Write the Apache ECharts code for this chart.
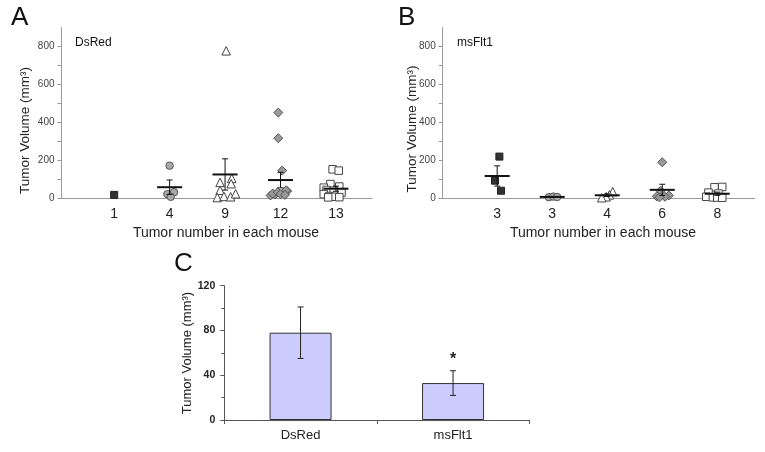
<!DOCTYPE html>
<html><head><meta charset="utf-8">
<script src="https://cdn.jsdelivr.net/npm/echarts@6/dist/echarts.min.js"></script>
<style>html,body{margin:0;padding:0;background:#fff}#c{width:765px;height:452px}</style>
</head><body><div id="c"></div>
<script>
// ---------- Panel A : DsRed (tumor volumes per mouse, grouped by tumor number) ----------
const catsA = ['1', '4', '9', '12', '13'];
const dsRed_1  = [18];
const dsRed_4  = [172, 22, 32, 8];
const dsRed_9  = [778, 84, 105, 77, 42, 4, 10, 8, 24];
const dsRed_12 = [452, 317, 146, 15, 20, 25, 28, 32, 38, 42, 22, 18];
const dsRed_13 = [153, 146, 75, 62, 56, 44, 40, 30, 22, 12, 8, 6, 5];
// horizontal scatter of the points inside each group (in category units)
const jitA_1  = [0];
const jitA_4  = [0, -0.04, 0.08, 0.02];
const jitA_9  = [0.02, -0.09, 0.12, 0.11, -0.09, -0.14, -0.02, 0.10, 0.19];
const jitA_12 = [-0.04, -0.04, 0.03, -0.18, -0.1, -0.14, 0.05, -0.05, 0.12, 0.1, 0.0, 0.08];
const jitA_13 = [-0.06, 0.05, -0.1, 0.06, -0.22, -0.17, -0.04, 0.1, -0.22, -0.12, -0.02, 0.06, -0.14];

// ---------- Panel B : msFlt1 ----------
const catsB = ['3', '3', '4', '6', '8'];
const msFlt1_3a = [220, 93, 40];
const msFlt1_3b = [6, 9, 7];
const msFlt1_4  = [35, 18, 8, 3];
const msFlt1_6  = [190, 40, 15, 10, 8, 5];
const msFlt1_8  = [60, 58, 30, 25, 8, 5, 4, 3];
const jitB_3a = [0.04, -0.04, 0.07];
const jitB_3b = [-0.06, 0.02, 0.09];
const jitB_4  = [0.1, 0.04, -0.02, -0.1];
const jitB_6  = [0, -0.03, 0.12, -0.1, 0.05, -0.05];
const jitB_8  = [0.09, -0.05, -0.16, 0.02, -0.2, -0.08, 0, 0.09];

// ---------- Panel C : group means ----------
const catsC = ['DsRed', 'msFlt1'];
const meanC = [78, 33];
const errC  = [23, 11];
const sigC  = ['', '*'];

// ---------- tick labels ----------
const yTicksAB = [0, 200, 400, 600, 800];
const yMinorAB = [0, 100, 200, 300, 400, 500, 600, 700, 800];

const groupsA = [dsRed_1, dsRed_4, dsRed_9, dsRed_12, dsRed_13];
const jitsA = [jitA_1, jitA_4, jitA_9, jitA_12, jitA_13];
const groupsB = [msFlt1_3a, msFlt1_3b, msFlt1_4, msFlt1_6, msFlt1_8];
const jitsB = [jitB_3a, jitB_3b, jitB_4, jitB_6, jitB_8];

const FONT = '"Liberation Sans", Arial, sans-serif';
const styles = [
  {symbol: 'rect', size: 7, color: '#333333', border: '#222222'},
  {symbol: 'circle', size: 7.5, color: '#a9a9a9', border: '#555555'},
  {symbol: 'triangle', size: 8.5, color: '#ffffff', border: '#444444'},
  {symbol: 'diamond', size: 9, color: '#999999', border: '#555555'},
  {symbol: 'rect', size: 7.5, color: '#ffffff', border: '#444444'}
];

function meanSem(v) {
  const n = v.length;
  const m = v.reduce((a, b) => a + b, 0) / n;
  if (n < 2) return [m, 0];
  const sd = Math.sqrt(v.reduce((a, b) => a + (b - m) * (b - m), 0) / (n - 1));
  return [m, sd / Math.sqrt(n)];
}

function renderMeanSem(params, api) {
  const x = api.value(0), m = api.value(1), s = api.value(2);
  const c = api.coord([x, m]);
  const t = api.coord([x, m + s]);
  const b = api.coord([x, Math.max(0, m - s)]);
  const st = {stroke: '#111', lineWidth: 1};
  return {type: 'group', children: [
    {type: 'line', shape: {x1: t[0], y1: t[1], x2: b[0], y2: b[1]}, style: st},
    {type: 'line', shape: {x1: t[0] - 3, y1: t[1], x2: t[0] + 3, y2: t[1]}, style: st},
    {type: 'line', shape: {x1: b[0] - 3, y1: b[1], x2: b[0] + 3, y2: b[1]}, style: st},
    {type: 'line', shape: {x1: c[0] - 12.5, y1: c[1], x2: c[0] + 12.5, y2: c[1]}, style: {stroke: '#111', lineWidth: 2}}
  ]};
}

function renderErrC(params, api) {
  const i = api.value(0), m = api.value(1), e = api.value(2);
  const t = api.coord([i, m + e]);
  const b = api.coord([i, m - e]);
  const st = {stroke: '#222', lineWidth: 1};
  const ch = [
    {type: 'line', shape: {x1: t[0], y1: t[1], x2: b[0], y2: b[1]}, style: st},
    {type: 'line', shape: {x1: t[0] - 3, y1: t[1], x2: t[0] + 3, y2: t[1]}, style: st},
    {type: 'line', shape: {x1: b[0] - 3, y1: b[1], x2: b[0] + 3, y2: b[1]}, style: st}
  ];
  const sig = sigC[params.dataIndex];
  if (sig) {
    ch.push({type: 'text', x: t[0], y: t[1] - 11, style: {text: sig, align: 'center', verticalAlign: 'middle', font: 'bold 16px ' + FONT, fill: '#222'}});
  }
  return {type: 'group', children: ch};
}

const series = [];
function addScatter(groups, jits, axisIdx) {
  groups.forEach((vals, i) => {
    const st = styles[i];
    series.push({
      type: 'scatter', xAxisIndex: axisIdx, yAxisIndex: axisIdx,
      symbol: st.symbol, symbolSize: st.size,
      itemStyle: {color: st.color, borderColor: st.border, borderWidth: 1, opacity: 1},
      data: vals.map((v, j) => [i + 1 + jits[i][j], v]),
      silent: true, z: 2
    });
  });
  series.push({
    type: 'custom', xAxisIndex: axisIdx, yAxisIndex: axisIdx, renderItem: renderMeanSem,
    data: groups.map((v, i) => [i + 1].concat(meanSem(v))).filter((d, i) => groups[i].length > 1),
    silent: true, z: 3
  });
}
addScatter(groupsA, jitsA, 0);
addScatter(groupsB, jitsB, 1);
series.push({
  type: 'bar', xAxisIndex: 2, yAxisIndex: 2, data: meanC, barWidth: 62,
  itemStyle: {color: '#ccccff', borderColor: '#333', borderWidth: 1}, silent: true
});
series.push({
  type: 'custom', xAxisIndex: 2, yAxisIndex: 2, renderItem: renderErrC,
  data: meanC.map((m, i) => [i, m, errC[i]]), silent: true, z: 5
});

const axisLineAB = {show: true, lineStyle: {color: '#9a9a9a', width: 1}};
function xAxisScatter(gi, cats, min, max) {
  return {
    type: 'value', gridIndex: gi, min: min, max: max,
    axisLine: axisLineAB, axisTick: {show: false}, splitLine: {show: false},
    axisLabel: {customValues: [1, 2, 3, 4, 5], formatter: v => cats[Math.round(v) - 1], margin: 9,
      fontFamily: FONT, fontSize: 14, color: '#222'}
  };
}
function yAxisScatter(gi) {
  return {
    type: 'value', gridIndex: gi, min: 0, max: 900,
    axisLine: {show: true, lineStyle: {color: '#9a9a9a', width: 1}},
    axisTick: {show: true, customValues: yMinorAB, length: 4, lineStyle: {color: '#9a9a9a'}},
    splitLine: {show: false},
    axisLabel: {customValues: yTicksAB, margin: 7, fontFamily: FONT, fontSize: 10, color: '#444'}
  };
}

const option = {
  animation: false,
  backgroundColor: '#fff',
  grid: [
    {left: 61.5, top: 27.7, width: 310.5, height: 170.6},
    {left: 442.7, top: 27.7, width: 312, height: 170.6},
    {left: 224.3, top: 285.7, width: 305, height: 134.3}
  ],
  xAxis: [
    xAxisScatter(0, catsA, 0.05, 5.65),
    xAxisScatter(1, catsB, 0.01, 5.68),
    {type: 'category', gridIndex: 2, data: catsC,
      axisLine: {show: true, lineStyle: {color: '#555', width: 1}},
      axisTick: {show: true, length: 4, lineStyle: {color: '#555'}},
      axisLabel: {margin: 9, fontFamily: FONT, fontSize: 13, color: '#222'}}
  ],
  yAxis: [
    yAxisScatter(0),
    yAxisScatter(1),
    {type: 'value', gridIndex: 2, min: 0, max: 120, interval: 40,
      axisLine: {show: true, lineStyle: {color: '#555', width: 1}},
      axisTick: {show: true, length: 4, lineStyle: {color: '#555'}},
      minorTick: {show: true, splitNumber: 2, length: 3, lineStyle: {color: '#555'}},
      splitLine: {show: false}, minorSplitLine: {show: false},
      axisLabel: {margin: 9, fontFamily: FONT, fontSize: 10.5, fontWeight: 'bold', color: '#222'}}
  ],
  graphic: [
    {type: 'text', x: 11, y: 18, style: {text: 'A', font: '26px ' + FONT, fill: '#111', verticalAlign: 'middle'}},
    {type: 'text', x: 398, y: 18, style: {text: 'B', font: '26px ' + FONT, fill: '#111', verticalAlign: 'middle'}},
    {type: 'text', x: 174, y: 264, style: {text: 'C', font: '26px ' + FONT, fill: '#111', verticalAlign: 'middle'}},
    {type: 'text', x: 75, y: 43, style: {text: 'DsRed', font: '12px ' + FONT, fill: '#111', verticalAlign: 'middle'}},
    {type: 'text', x: 457, y: 43, style: {text: 'msFlt1', font: '12px ' + FONT, fill: '#111', verticalAlign: 'middle'}},
    {type: 'text', x: 25, y: 130.5, rotation: Math.PI / 2, style: {text: 'Tumor Volume (mm³)', font: '13.5px ' + FONT, fill: '#222', align: 'center', verticalAlign: 'middle'}},
    {type: 'text', x: 412, y: 129, rotation: Math.PI / 2, style: {text: 'Tumor Volume (mm³)', font: '13.5px ' + FONT, fill: '#222', align: 'center', verticalAlign: 'middle'}},
    {type: 'text', x: 187, y: 353, rotation: Math.PI / 2, style: {text: 'Tumor Volume (mm³)', font: '13px ' + FONT, fill: '#222', align: 'center', verticalAlign: 'middle'}},
    {type: 'text', x: 226, y: 233, style: {text: 'Tumor number in each mouse', font: '14px ' + FONT, fill: '#222', align: 'center', verticalAlign: 'middle'}},
    {type: 'text', x: 603, y: 233, style: {text: 'Tumor number in each mouse', font: '14px ' + FONT, fill: '#222', align: 'center', verticalAlign: 'middle'}}
  ],
  series: series
};
const chart = echarts.init(document.getElementById('c'));
chart.setOption(option);
</script>
</body></html>
